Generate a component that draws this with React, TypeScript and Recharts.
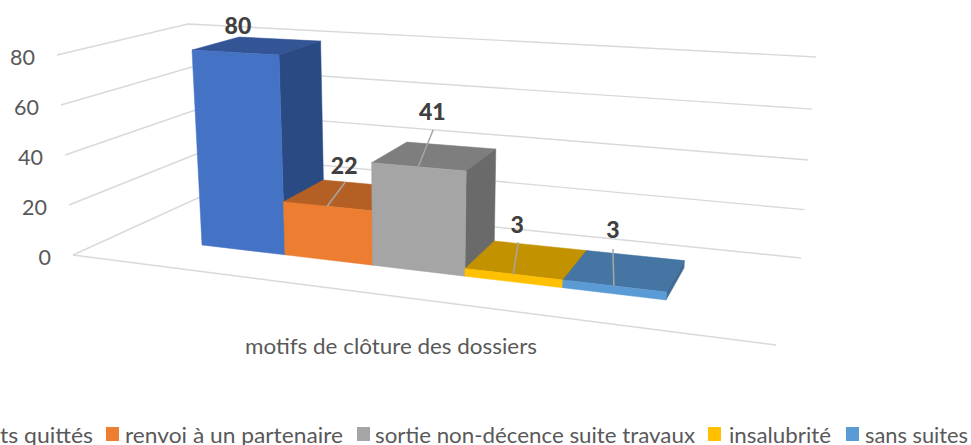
import React from 'react';
import { BarChart, Bar, XAxis, YAxis, Legend, LabelList, CartesianGrid } from 'recharts';

const categories = ['motifs de clôture des dossiers'];
const seriesKeys = ['s1', 's2', 's3', 's4', 's5'];
const seriesNames = ['ts quittés', 'renvoi à un partenaire', 'sortie non-décence suite travaux', 'insalubrité', 'sans suites'];
const seriesValues = [80, 22, 41, 3, 3];
const tickValues = [0, 20, 40, 60, 80];

const frontColors = ['#4472C4', '#ED7D31', '#A5A5A5', '#FFC000', '#5B9BD5'];
const topColors = ['#335596', '#B46024', '#7E7E7E', '#C29200', '#4575A2'];
const sideColors = ['#2A4A83', '#9A5220', '#6A6A6A', '#A67C00', '#3F6B94'];

const tableRow: Record<string, string | number> = { motif: categories[0] };
seriesKeys.forEach((k, i) => { tableRow[k] = seriesValues[i]; });
const table = [tableRow];

const W = 971;
const H = 445;
const FONT = 'Lato, Carlito, sans-serif';
const GRID = '#D9D9D9';
const TEXT = '#595959';

type P = [number, number];
const lerp = (a: P, b: P, f: number): P => [a[0] + (b[0] - a[0]) * f, a[1] + (b[1] - a[1]) * f];

// 3D view: depth/height/run are mapped through the corners of the bar volume.
const VIEW = {
  front0: [[202, 245], [666, 300]] as P[],
  front80: [[192, 50], [678, 78]] as P[],
  back0: [[246, 222], [684, 268]] as P[],
  back80: [[239, 37], [695, 60]] as P[],
};
const runT = (X: number) => X / (5 + 0.147 * (5 - X));
const riseP = (v: number) => v / (80 + 0.05 * (80 - v));

const project = (X: number, d: number, v: number): P => {
  const t = runT(X);
  const p = riseP(v);
  const f = lerp(lerp(VIEW.front0[0], VIEW.front0[1], t), lerp(VIEW.front80[0], VIEW.front80[1], t), p);
  const b = lerp(lerp(VIEW.back0[0], VIEW.back0[1], t), lerp(VIEW.back80[0], VIEW.back80[1], t), p);
  return lerp(f, b, d);
};

const WALL = {
  left: [[73, 255], [57, 55]] as P[],
  corner: [[200, 197], [188, 24]] as P[],
  right: [[801, 258], [816, 57]] as P[],
};
const FLOOR_FRONT: P = [776, 345];

const poly = (pts: P[]) => pts.map((q) => `${q[0].toFixed(1)},${q[1].toFixed(1)}`).join(' ');

const Face = ({ pts, fill }: { pts: P[]; fill: string }) => (
  <polygon points={poly(pts)} fill={fill} stroke={fill} strokeWidth={0.5} />
);

const makeBarShape = (idx: number) => (props: any) => {
  const { x, y, width, height } = props;
  const X = Math.round(x / width);
  const v = (80 * height) / (y + height);
  return (
    <g>
      <Face pts={[project(X, 0, v), project(X, 1, v), project(X + 1, 1, v), project(X + 1, 0, v)]} fill={topColors[idx]} />
      <Face pts={[project(X + 1, 0, v), project(X + 1, 1, v), project(X + 1, 1, 0), project(X + 1, 0, 0)]} fill={sideColors[idx]} />
      <Face pts={[project(X, 0, v), project(X + 1, 0, v), project(X + 1, 0, 0), project(X, 0, 0)]} fill={frontColors[idx]} />
    </g>
  );
};

// label and leader-line offsets from the middle of each bar's front top edge
const labelOffsets: P[] = [[3, -27], [17, -41], [14, -56], [4, -50], [-1, -57]];
const leaderOffsets: (P | null)[] = [null, [18, -24], [15, -37], [5, -32], [-1, -37]];

const makeLabel = (idx: number) => (props: any) => {
  const { x, y, width, height, value } = props;
  const X = Math.round(x / width);
  const v = (80 * height) / (y + height);
  const a = project(X + 0.5, 0, v);
  const off = labelOffsets[idx];
  const lead = leaderOffsets[idx];
  return (
    <g>
      {lead && (
        <line x1={a[0] + lead[0]} y1={a[1] + lead[1]} x2={a[0]} y2={a[1]} stroke="#A6A6A6" strokeWidth={1.5} />
      )}
      <text
        x={a[0] + off[0]}
        y={a[1] + off[1]}
        textAnchor="middle"
        dominantBaseline="central"
        fontFamily={FONT}
        fontWeight={900}
        fontSize={23}
        fill="#404040"
      >
        {value}
      </text>
    </g>
  );
};

const GridLine = (props: any) => {
  const { y1, y, height } = props;
  const v = Math.round(80 * (1 - (y1 - y) / height));
  const f = v / 80;
  const l = lerp(WALL.left[0], WALL.left[1], f);
  const c = lerp(WALL.corner[0], WALL.corner[1], f);
  const r = lerp(WALL.right[0], WALL.right[1], riseP(v));
  return (
    <g key={`grid-${v}`}>
      <polyline points={poly([l, c, r])} fill="none" stroke={GRID} strokeWidth={1.4} />
      {v === 0 && <line x1={l[0]} y1={l[1]} x2={FLOOR_FRONT[0]} y2={FLOOR_FRONT[1]} stroke={GRID} strokeWidth={1.4} />}
    </g>
  );
};

const YTick = (props: any) => {
  const v = props.payload.value;
  const l = lerp(WALL.left[0], WALL.left[1], v / 80);
  return (
    <text
      x={l[0] - 22}
      y={l[1] + 2}
      textAnchor="end"
      dominantBaseline="central"
      fontFamily={FONT}
      fontSize={21.5}
      fill={TEXT}
    >
      {v}
    </text>
  );
};

const XTick = (props: any) => (
  <text
    x={391}
    y={345}
    textAnchor="middle"
    dominantBaseline="central"
    fontFamily={FONT}
    fontSize={21}
    fill={TEXT}
    textLength={292}
    lengthAdjust="spacingAndGlyphs"
  >
    {props.payload.value}
  </text>
);

// swatch left, text left, text width for each legend entry
const legendLayout = [
  [-20, 0, 93],
  [106, 125, 218],
  [357, 375, 320],
  [708, 729, 102],
  [846, 865, 103],
];

const LegendContent = (props: any) => (
  <svg width={W} height={30} style={{ display: 'block' }}>
    {(props.payload || []).map((e: any, i: number) => (
      <g key={e.value}>
        <rect x={legendLayout[i][0]} y={8} width={13} height={14} fill={e.color} />
        <text
          x={legendLayout[i][1]}
          y={15}
          dominantBaseline="central"
          fontFamily={FONT}
          fontSize={21}
          fill={TEXT}
          textLength={legendLayout[i][2]}
          lengthAdjust="spacingAndGlyphs"
        >
          {e.value}
        </text>
      </g>
    ))}
  </svg>
);

export default function App() {
  return (
    <div style={{ position: 'absolute', left: 0, top: 0, width: W, height: H, overflow: 'hidden', background: '#fff' }}>
      <BarChart
        width={W}
        height={H}
        data={table}
        margin={{ top: 0, right: 0, bottom: 0, left: 0 }}
        barGap={0}
        barCategoryGap={0}
      >
        <CartesianGrid vertical={false} horizontal={GridLine} horizontalValues={tickValues} />
        <YAxis
          width={1}
          domain={[0, 80]}
          ticks={tickValues}
          axisLine={false}
          tickLine={false}
          interval={0}
          tick={YTick}
        />
        <XAxis dataKey="motif" height={1} axisLine={false} tickLine={false} tick={XTick} />
        <Legend
          content={LegendContent}
          itemSorter={null}
          wrapperStyle={{ position: 'absolute', left: 0, top: 419, width: W, height: 0 }}
        />
        {seriesKeys.map((k, i) => (
          <Bar
            key={k}
            dataKey={k}
            name={seriesNames[i]}
            fill={frontColors[i]}
            isAnimationActive={false}
            shape={makeBarShape(i)}
          >
            <LabelList dataKey={k} content={makeLabel(i)} />
          </Bar>
        ))}
      </BarChart>
    </div>
  );
}
